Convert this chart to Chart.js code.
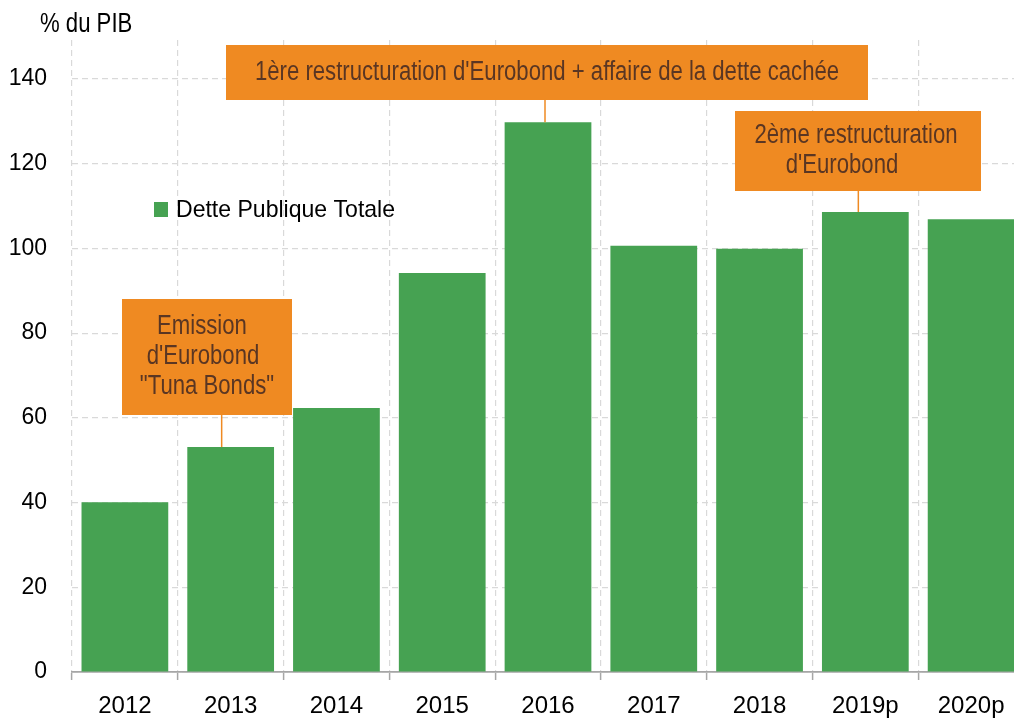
<!DOCTYPE html>
<html>
<head>
<meta charset="utf-8">
<script src="https://cdn.jsdelivr.net/npm/chart.js@4.4.1/dist/chart.umd.min.js"></script>
<style>
  html, body { margin: 0; padding: 0; background: #fff; overflow: hidden; }
  #wrap { width: 1024px; height: 720px; }
</style>
</head>
<body>
<div id="wrap"><canvas id="bar_chart" width="1024" height="720"></canvas></div>
<script>
// données
var years = ['2012', '2013', '2014', '2015', '2016', '2017', '2018', '2019p', '2020p'];
var dette = [40.1, 53.1, 62.3, 94.2, 129.8, 100.6, 99.9, 108.6, 106.9];
var yTicks = [0, 20, 40, 60, 80, 100, 120, 140];
var seriesLabel = 'Dette Publique Totale';
var unitLabel = '% du PIB';

var font = "'Liberation Sans', Arial, sans-serif";
var green = '#46a252';
var orange = '#ef8a22';
var brown = '#5a3623';

// encadrés orange: texte, barre visée, boîte
var notes = [
    { lines: ["1ère restructuration d'Eurobond + affaire de la dette cachée"], shift: [0], idx: 4, dx: -3, box: [226, 45, 868, 100] },
    { lines: ['2ème restructuration', "d'Eurobond"], shift: [-2, -16], idx: 7, dx: -7, box: [735, 111, 981, 191] },
    { lines: ['Emission', "d'Eurobond", '"Tuna Bonds"'], shift: [-5, -4, 0], idx: 1, dx: -9, box: [122, 299, 292, 415] }
];

// texte "étroit" (police condensée absente)
function narrowText(ctx, txt, x, y, size, align, squeeze) {
    ctx.save();
    ctx.font = size + 'px ' + font;
    ctx.textAlign = align;
    ctx.textBaseline = 'middle';
    ctx.translate(x, y);
    ctx.scale(squeeze, 1);
    ctx.fillText(txt, 0, 0);
    ctx.restore();
}

var extras = {
    id: 'extras',
    afterDatasetsDraw: function(chart) {
        var ctx = chart.ctx;
        var xs = chart.scales.x, ys = chart.scales.y;
        ctx.save();

        ctx.fillStyle = '#000';
        narrowText(ctx, unitLabel, 40, 25, 27, 'left', 0.82);

        // légende
        ctx.fillStyle = green;
        ctx.fillRect(154, 202, 14, 15);
        ctx.fillStyle = '#000';
        narrowText(ctx, seriesLabel, 176, 210, 24, 'left', 0.96);

        notes.forEach(function(n) {
            var b = n.box;
            var cx = xs.getPixelForValue(n.idx) + n.dx;
            var top = ys.getPixelForValue(dette[n.idx]);
            ctx.strokeStyle = orange;
            ctx.lineWidth = 1.5;
            ctx.beginPath();
            ctx.moveTo(cx, b[3]);
            ctx.lineTo(cx, top);
            ctx.stroke();

            ctx.fillStyle = orange;
            ctx.fillRect(b[0], b[1], b[2] - b[0], b[3] - b[1]);

            ctx.fillStyle = brown;
            var lh = 30;
            var midX = (b[0] + b[2]) / 2;
            var startY = (b[1] + b[3]) / 2 - (n.lines.length - 1) * lh / 2;
            n.lines.forEach(function(t, i) {
                narrowText(ctx, t, midX + n.shift[i], startY + i * lh, 27, 'center', 0.82);
            });
        });
        ctx.restore();
    }
};

new Chart(document.getElementById('bar_chart'), {
    type: 'bar',
    data: {
        labels: years,
        datasets: [{
            label: seriesLabel,
            data: dette,
            backgroundColor: green,
            borderWidth: 0,
            barPercentage: 0.82,
            categoryPercentage: 1
        }]
    },
    options: {
        responsive: false,
        animation: false,
        layout: { padding: { top: 40, left: 0, right: 0, bottom: 0 } },
        plugins: {
            legend: { display: false },
            tooltip: { enabled: false }
        },
        scales: {
            x: {
                afterFit: function(s) { s.height = 48; },
                grid: {
                    color: '#d9d9d9',
                    lineWidth: 1.2,
                    tickColor: '#a6a6a6',
                    tickLength: 8,
                    tickBorderDash: [],
                    tickWidth: 1.5
                },
                border: { color: '#a6a6a6', width: 1.8, dash: [6, 4] },
                ticks: {
                    color: '#000',
                    font: { family: font, size: 24 },
                    padding: 12,
                    maxRotation: 0
                }
            },
            y: {
                min: 0,
                max: 149.2,
                afterFit: function(s) { s.width = 72; },
                afterBuildTicks: function(s) {
                    s.ticks = yTicks.map(function(v) { return { value: v }; });
                },
                grid: { color: '#d9d9d9', lineWidth: 1.2, drawTicks: false },
                border: { display: false, dash: [6, 4] },
                ticks: {
                    color: '#000',
                    font: { family: font, size: 23 },
                    padding: 25
                }
            }
        }
    },
    plugins: [extras]
});
</script>
</body>
</html>
